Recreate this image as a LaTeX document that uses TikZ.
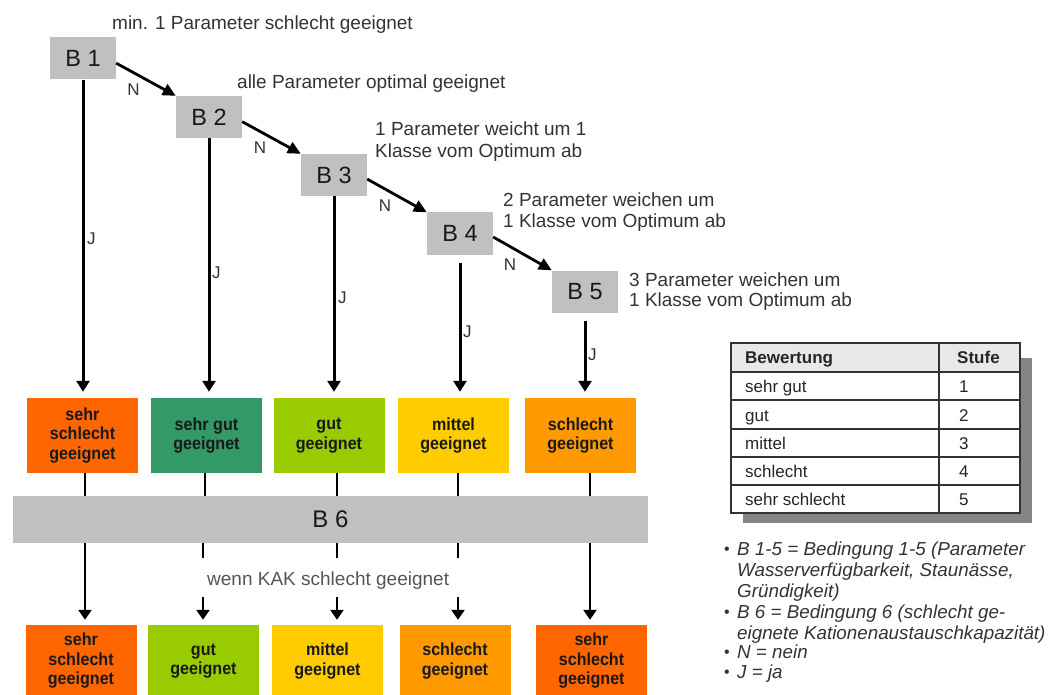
\documentclass[tikz,border=0pt]{standalone}
\usepackage{fontspec}
\setmainfont{Liberation Sans}
\newfontfamily\narrowbold[FakeStretch=0.92]{Liberation Sans Bold}
\usetikzlibrary{arrows.meta,calc}

\definecolor{boxgray}{HTML}{C0C0C0}
\definecolor{redor}{HTML}{FF6600}
\definecolor{dgreen}{HTML}{339966}
\definecolor{lgreen}{HTML}{99CC00}
\definecolor{yel}{HTML}{FFCC00}
\definecolor{orng}{HTML}{FF9900}
\definecolor{txtgray}{HTML}{333333}
\definecolor{lightgraytxt}{HTML}{555555}
\definecolor{shadowgray}{HTML}{858585}
\definecolor{headgray}{HTML}{E8E8E8}

\begin{document}
\begin{tikzpicture}[x=1pt,y=-1pt,
  cond/.style={fill=boxgray, minimum width=66pt, minimum height=42pt, inner sep=0pt,
    font=\fontsize{23.5}{27}\selectfont, text=black!90},
  result/.style={minimum width=111pt, minimum height=75pt, inner sep=0pt, align=center,
    font=\fontsize{17.5}{19.5}\narrowbold, text=black!90},
  lowresult/.style={result, minimum height=72pt},
  lbl/.style={anchor=base west, inner sep=0pt, text=txtgray, font=\fontsize{19}{22}\selectfont},
  yn/.style={inner sep=0pt, text=txtgray, font=\fontsize{17}{20}\selectfont},
  tabtxt/.style={anchor=base west, inner sep=0pt, text=black!85, font=\fontsize{17}{20}\selectfont},
  tabhead/.style={tabtxt, font=\fontsize{17}{20}\selectfont\bfseries},
  legend/.style={anchor=base west, inner sep=0pt, text=txtgray, font=\fontsize{18.8}{21}\selectfont\itshape},
  dot/.style={anchor=base west, inner sep=0pt, text=txtgray, font=\fontsize{16}{21}\selectfont},
  narrow/.style={line width=2.8pt, -{Triangle[length=13pt,width=12pt]}},
  jarrow/.style={line width=3pt, -{Triangle[length=11pt,width=13pt]}, shorten >=6pt},
  link/.style={line width=2.6pt},
  barrow/.style={line width=2.6pt, -{Triangle[length=10pt,width=13pt]}, shorten >=5pt},
  tabline/.style={line width=1.1pt, draw=black!80}
]
\useasboundingbox (0,0) rectangle (1049,695);
\clip (0,0) rectangle (1049,695);

% condition boxes B1..B5
\node[cond] (B1) at (83,58.5) {B 1};
\node[cond] (B2) at (209,117) {B 2};
\node[cond] (B3) at (334,175) {B 3};
\node[cond] (B4) at (460,233.5) {B 4};
\node[cond] (B5) at (585,291.5) {B 5};

% condition descriptions
\node[lbl] (t1) at (112,29.6) {min. 1 Parameter schlecht geeignet};
\node[lbl] (t2) at (237,88.6) {alle Parameter optimal geeignet};
\node[lbl] (t3a) at (375,135.6) {1 Parameter weicht um 1};
\node[lbl] (t3b) at (375,157.6) {Klasse vom Optimum ab};
\node[lbl] (t4a) at (503,206.6) {2 Parameter weichen um};
\node[lbl] (t4b) at (503,227.6) {1 Klasse vom Optimum ab};
\node[lbl] (t5a) at (629,286.6) {3 Parameter weichen um};
\node[lbl] (t5b) at (629,306.6) {1 Klasse vom Optimum ab};

% "nein" chain
\draw[narrow] (B1.-8) -- (B2.north west);
\draw[narrow] (B2.-8) -- (B3.north west);
\draw[narrow] (B3.-7) -- (B4.north west);
\draw[narrow] (B4.-6) -- (B5.north west);
\node[yn] (n1) at (133.5,90) {N};
\node[yn] (n2) at (260,148) {N};
\node[yn] (n3) at (385,206) {N};
\node[yn] (n4) at (510,265) {N};

% first classification
\node[result, fill=redor]  (T1) at (82.5,435.5)  {sehr\\schlecht\\geeignet};
\node[result, fill=dgreen] (T2) at (206.5,435.5) {sehr gut\\geeignet};
\node[result, fill=lgreen] (T3) at (329,435.5)   {gut\\geeignet};
\node[result, fill=yel]    (T4) at (453.5,435.5) {mittel\\geeignet};
\node[result, fill=orng]   (T5) at (580.5,435.5) {schlecht\\geeignet};

% "ja" branches
\draw[jarrow] (B1.south) -- (B1.south |- T1.north);
\draw[jarrow] (B2.south) -- (B2.south |- T2.north);
\draw[jarrow] (B3.south) -- (B3.south |- T3.north);
\draw[jarrow, shorten <=8pt] (B4.south) -- (B4.south |- T4.north);
\draw[jarrow, shorten <=8pt] (B5.south) -- (B5.south |- T5.north);
\node[yn, anchor=west] (j1) at (87,239) {J};
\node[yn, anchor=west] (j2) at (212,273) {J};
\node[yn, anchor=west] (j3) at (338,298) {J};
\node[yn, anchor=west] (j4) at (463,332) {J};
\node[yn, anchor=west] (j5) at (588,355) {J};

% condition 6
\node[fill=boxgray, minimum width=635pt, minimum height=47pt, inner sep=0pt,
  font=\fontsize{24}{28}\selectfont, text=black!90] (B6) at (330.5,519.5) {B 6};

\coordinate (c1) at (85,0);
\coordinate (c2) at (205,0);
\coordinate (c3) at (337,0);
\coordinate (c4) at (458,0);
\coordinate (c5) at (590,0);
\draw[link] (T1.south -| c1) -- (B6.north -| c1);
\draw[link] (T2.south -| c2) -- (B6.north -| c2);
\draw[link] (T3.south -| c3) -- (B6.north -| c3);
\draw[link] (T4.south -| c4) -- (B6.north -| c4);
\draw[link] (T5.south -| c5) -- (B6.north -| c5);

% final classification
\node[lowresult, fill=redor]  (R1) at (81,661)    {sehr\\schlecht\\geeignet};
\node[lowresult, fill=lgreen] (R2) at (203.5,661) {gut\\geeignet};
\node[lowresult, fill=yel]    (R3) at (327.5,661) {mittel\\geeignet};
\node[lowresult, fill=orng]   (R4) at (455,661)   {schlecht\\geeignet};
\node[lowresult, fill=redor]  (R5) at (591.5,661) {sehr\\schlecht\\geeignet};

\node[lbl, text=lightgraytxt] (kak) at (207,585) {wenn KAK schlecht geeignet};

\coordinate (g2a) at (203,558); \coordinate (g2b) at (203,597);
\coordinate (g3a) at (337,558); \coordinate (g3b) at (337,597);
\coordinate (g4a) at (458,558); \coordinate (g4b) at (458,597);

\draw[barrow] (B6.south -| c1) -- (R1.north -| c1);
\draw[link] (B6.south -| g2a) -- (g2a);
\draw[barrow] (g2b) -- (R2.north -| g2b);
\draw[link] (B6.south -| g3a) -- (g3a);
\draw[barrow] (g3b) -- (R3.north -| g3b);
\draw[link] (B6.south -| g4a) -- (g4a);
\draw[barrow] (g4b) -- (R4.north -| g4b);
\draw[barrow] (B6.south -| c5) -- (R5.north -| c5);

% rating table with drop shadow
\fill[shadowgray] (743,358) rectangle (1032,523);
\fill[white] (731,343) rectangle (1020,513);
\fill[headgray] (731,343) rectangle (1020,372);
\draw[tabline] (731,343) rectangle (1020,513);
\foreach \yy in {372,400,429,457,485} \draw[tabline] (731,\yy) -- (1020,\yy);
\draw[tabline, line width=1.8pt] (939,343) -- (939,513);

\node[tabhead] (h1) at (745,363) {Bewertung};
\node[tabhead] (h2) at (957,363) {Stufe};
\node[tabtxt] (r1a) at (745,392) {sehr gut};      \node[tabtxt] (r1b) at (959,392) {1};
\node[tabtxt] (r2a) at (745,421) {gut};           \node[tabtxt] (r2b) at (959,421) {2};
\node[tabtxt] (r3a) at (745,449) {mittel};        \node[tabtxt] (r3b) at (959,449) {3};
\node[tabtxt] (r4a) at (745,477) {schlecht};      \node[tabtxt] (r4b) at (959,477) {4};
\node[tabtxt] (r5a) at (745,505) {sehr schlecht}; \node[tabtxt] (r5b) at (959,505) {5};

% legend
\node[dot] (d1) at (724,554) {•};
\node[dot] (d2) at (724,617) {•};
\node[dot] (d3) at (724,657) {•};
\node[dot] (d4) at (724,677) {•};
\node[legend] (l1) at (737,555) {B 1-5 = Bedingung 1-5 (Parameter};
\node[legend] (l2) at (737,576) {Wasserverfügbarkeit, Staunässe,};
\node[legend] (l3) at (737,597) {Gründigkeit)};
\node[legend] (l4) at (737,618) {B 6 = Bedingung 6 (schlecht ge-};
\node[legend] (l5) at (737,639) {eignete Kationenaustauschkapazität)};
\node[legend] (l6) at (737,658) {N = nein};
\node[legend] (l7) at (737,678) {J = ja};
\end{tikzpicture}
\end{document}
